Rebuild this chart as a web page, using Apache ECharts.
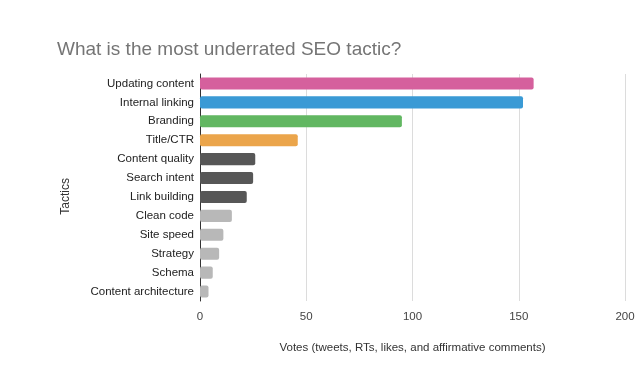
<!DOCTYPE html>
<html>
<head>
<meta charset="utf-8">
<script src="https://cdn.jsdelivr.net/npm/echarts@6/dist/echarts.min.js"></script>
<style>html,body{margin:0;padding:0;background:#fff}#c{width:640px;height:369px}</style>
</head>
<body>
<div id="c"></div>
<script>
var categories = ["Updating content","Internal linking","Branding","Title/CTR","Content quality","Search intent","Link building","Clean code","Site speed","Strategy","Schema","Content architecture"];
var votes = [157,152,95,46,26,25,22,15,11,9,6,4];
var barColors = ["#d5609d","#3a9ad5","#62b762","#eba54b","#575757","#575757","#575757","#b8b8b8","#b8b8b8","#b8b8b8","#b8b8b8","#b8b8b8"];
var xTicks = [0,50,100,150,200];

var chart = echarts.init(document.getElementById('c'), null, {renderer:'canvas'});
chart.setOption({
  animation:false,
  backgroundColor:'#ffffff',
  title:{text:'What is the most underrated SEO tactic?',left:52,top:35,
    textStyle:{fontFamily:'Liberation Sans',fontSize:19,fontWeight:'normal',color:'#757575'}},
  grid:{left:200,right:15,top:74,bottom:68,containLabel:false},
  xAxis:{type:'value',min:xTicks[0],max:xTicks[xTicks.length-1],interval:50,
    axisLine:{show:false},axisTick:{show:false},
    splitLine:{show:true,lineStyle:{color:'#dcdcdc',width:1}},
    axisLabel:{color:'#444',fontFamily:'Liberation Sans',fontSize:11.5,margin:10},
    name:'Votes (tweets, RTs, likes, and affirmative comments)',nameLocation:'middle',nameGap:41,
    nameTextStyle:{color:'#333',fontFamily:'Liberation Sans',fontSize:11.5}},
  yAxis:{type:'category',data:categories,inverse:true,
    axisLine:{show:true,lineStyle:{color:'#333',width:1}},axisTick:{show:false},
    axisLabel:{color:'#222',fontFamily:'Liberation Sans',fontSize:11.5,margin:6}},
  graphic:[{type:'text',left:60,top:178,rotation:Math.PI/2,
    style:{text:'Tactics',fill:'#333',font:'12px "Liberation Sans"'}}],
  series:[{type:'bar',barCategoryGap:'36%',
    data:votes.map(function(v,i){return {value:v,itemStyle:{color:barColors[i],borderRadius:2}};})}]
});
</script>
</body>
</html>
